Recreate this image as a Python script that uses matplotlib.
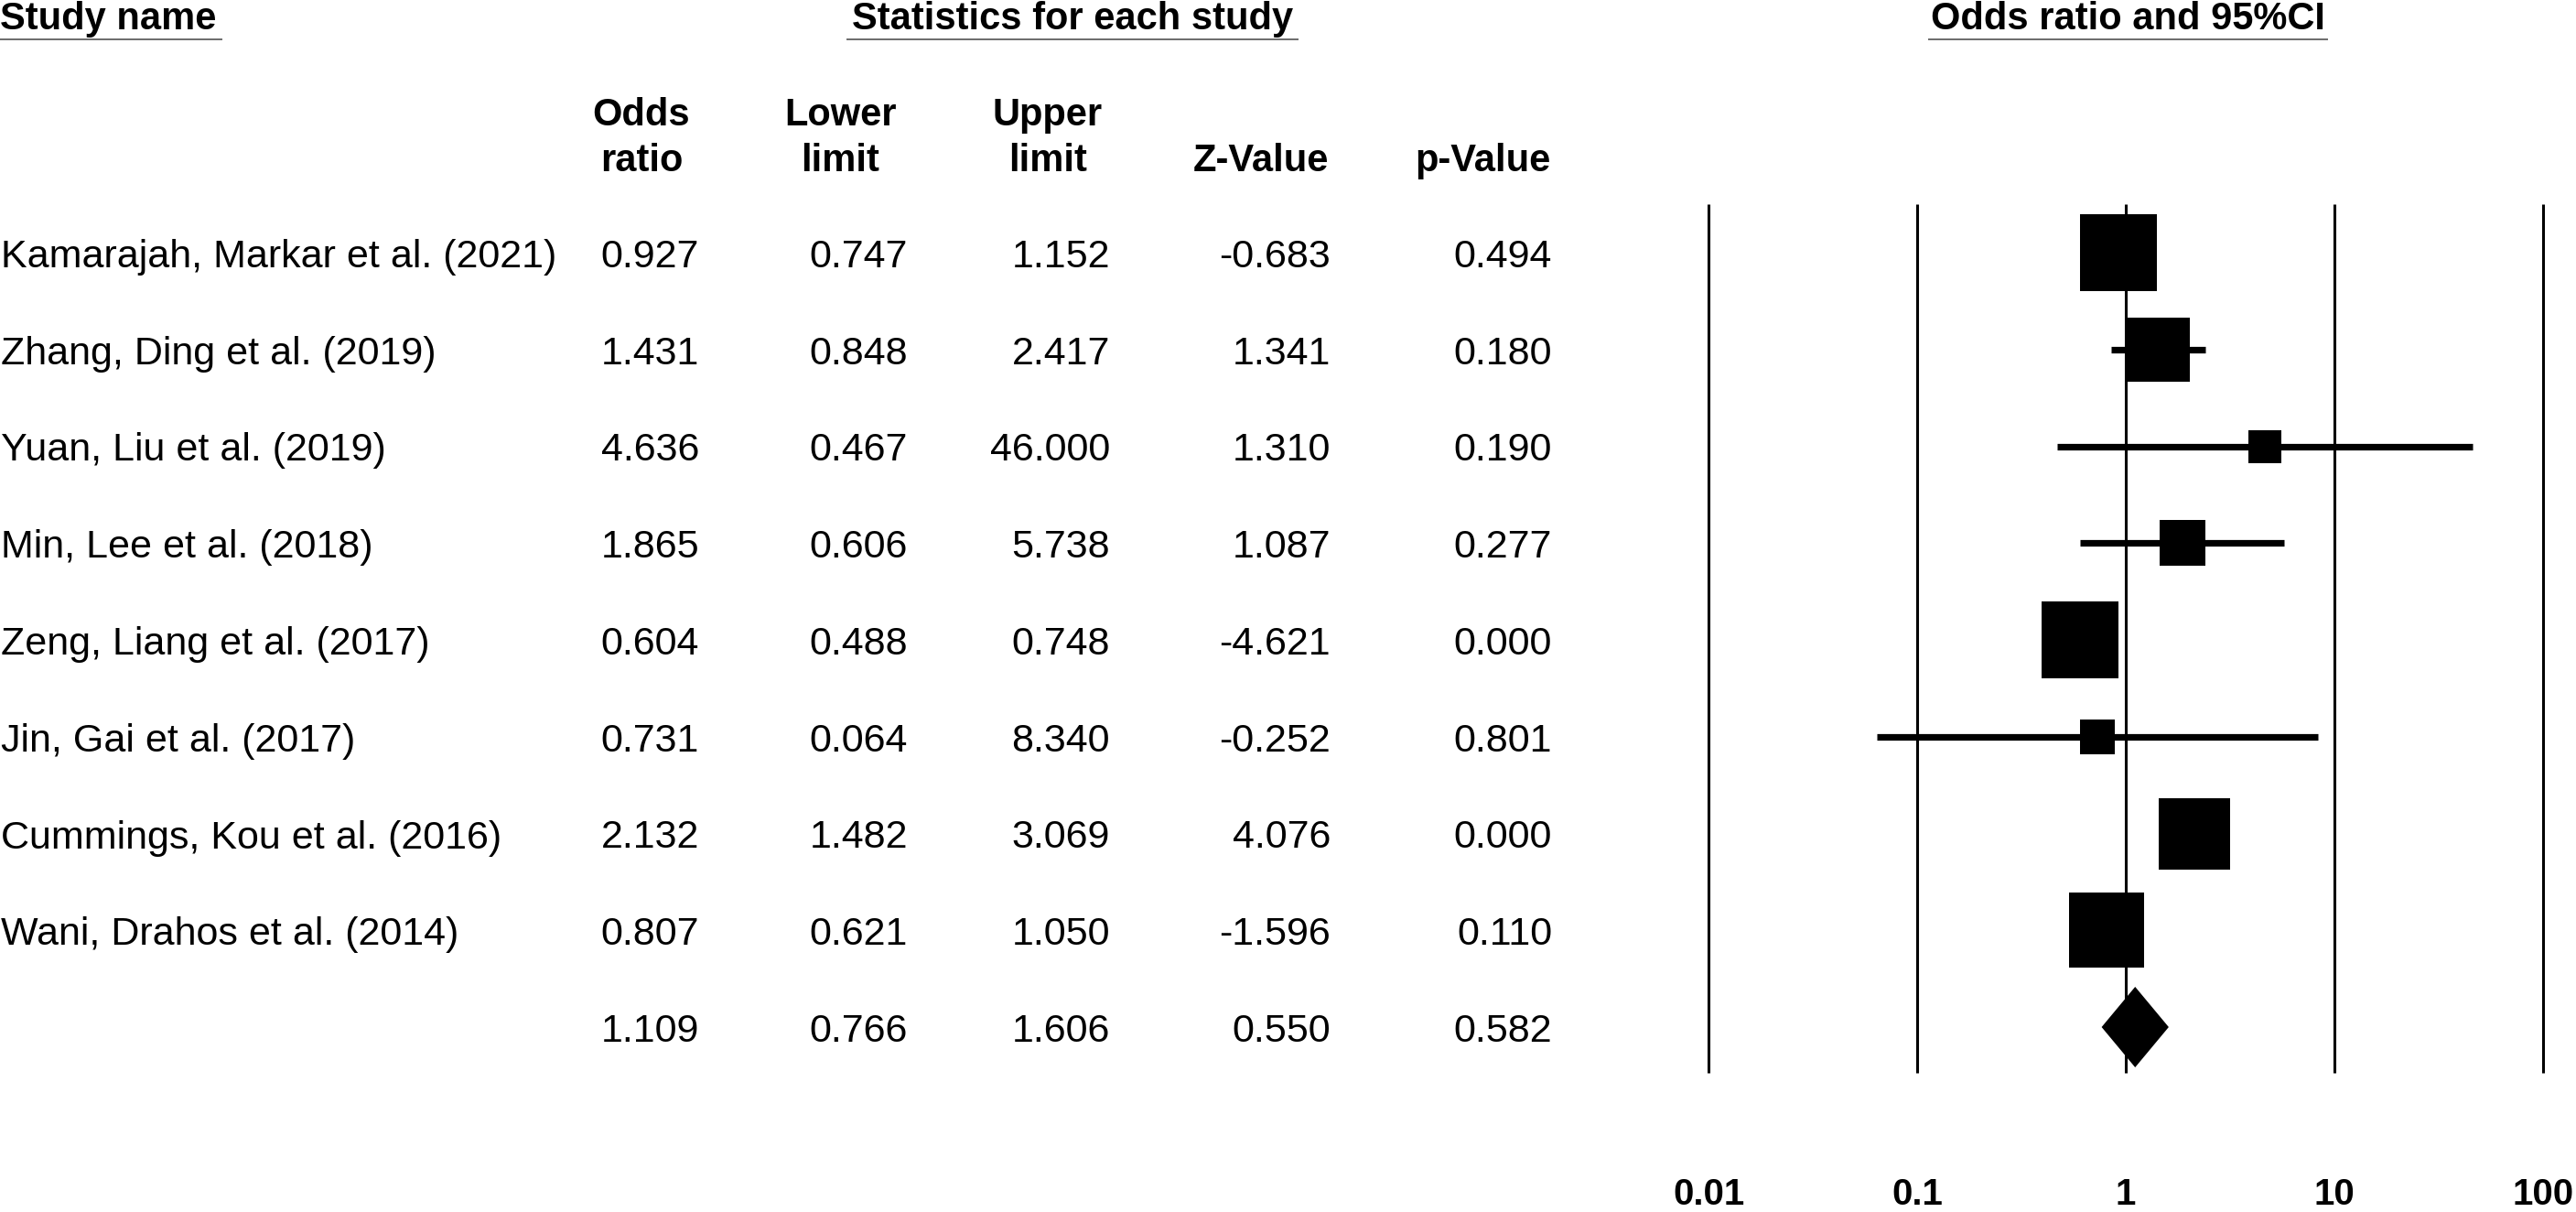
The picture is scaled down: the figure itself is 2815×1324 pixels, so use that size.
import matplotlib
matplotlib.use("Agg")
import matplotlib.pyplot as plt

# ---------------- data ----------------
studies = ["Kamarajah, Markar et al. (2021)", "Zhang, Ding et al. (2019)",
           "Yuan, Liu et al. (2019)", "Min, Lee et al. (2018)",
           "Zeng, Liang et al. (2017)", "Jin, Gai et al. (2017)",
           "Cummings, Kou et al. (2016)", "Wani, Drahos et al. (2014)"]
odds_ratio = [0.927, 1.431, 4.636, 1.865, 0.604, 0.731, 2.132, 0.807]
lower_limit = [0.747, 0.848, 0.467, 0.606, 0.488, 0.064, 1.482, 0.621]
upper_limit = [1.152, 2.417, 46.000, 5.738, 0.748, 8.340, 3.069, 1.050]
z_value = [-0.683, 1.341, 1.310, 1.087, -4.621, -0.252, 4.076, -1.596]
p_value = [0.494, 0.180, 0.190, 0.277, 0.000, 0.801, 0.000, 0.110]
# relative weights (%)
rel_weight = [18.8, 13.4, 3.6, 6.6, 18.8, 3.8, 16.6, 18.3]

summary_or, summary_lo, summary_hi = 1.109, 0.766, 1.606
summary_z, summary_p = 0.550, 0.582

axis_ticks = [0.01, 0.1, 1, 10, 100]
axis_tick_labels = ["0.01", "0.1", "1", "10", "100"]

header_top = ["Study name", "Statistics for each study", "Odds ratio and 95%CI"]
col_head1 = ["Odds", "Lower", "Upper", "", ""]
col_head2 = ["ratio", "limit", "limit", "Z-Value", "p-Value"]

# ---------------- layout (pixels) ----------------
W, H = 2815, 1324
FONT = "Liberation Sans"
plt.rcParams["font.family"] = [FONT, "DejaVu Sans"]

fig = plt.figure(figsize=(W / 100, H / 100), dpi=100)
fig.patch.set_facecolor("white")


def fx(px):
    return px / W


def fy(py):
    return 1 - py / H


row0, row_step = 276, 105.75
row_y = [row0 + i * row_step for i in range(len(studies) + 1)]

body_size = 31
head_size = 30
tick_size = 29
base_off = 16  # baseline offset below row centre

# numeric columns (right edges) and header centres
col_right = [764, 992, 1213, 1454, 1696]
head_centre = [701, 918, 1145, 1378, 1620]

# top headers with underlines
top_specs = [(0, 242, "left"), (926, 1418, "center"), (2108, 2543, "center")]
for txt, (x0, x1, ha) in zip(header_top, top_specs):
    xt = x0 if ha == "left" else (x0 + x1) / 2
    fig.text(fx(xt), fy(32), txt, ha=ha, va="baseline", fontsize=head_size,
             fontweight="bold", color="black")
    fig.add_artist(plt.Line2D([fx(x0), fx(x1)], [fy(43), fy(43)],
                              color="#6b6b6b", lw=1.4))

# column headers
for h1, h2, xc in zip(col_head1, col_head2, head_centre):
    if h1:
        fig.text(fx(xc), fy(137), h1, ha="center", va="baseline",
                 fontsize=head_size, fontweight="bold")
    fig.text(fx(xc), fy(187), h2, ha="center", va="baseline",
             fontsize=head_size, fontweight="bold")

# table rows
for i, name in enumerate(studies):
    y = fy(row_y[i] + base_off)
    fig.text(fx(1), y, name, ha="left", va="baseline", fontsize=body_size)
    vals = [odds_ratio[i], lower_limit[i], upper_limit[i], z_value[i], p_value[i]]
    for v, xr in zip(vals, col_right):
        fig.text(fx(xr), y, f"{v:.3f}", ha="right", va="baseline",
                 fontsize=body_size)

y = fy(row_y[-1] + base_off)
for v, xr in zip([summary_or, summary_lo, summary_hi, summary_z, summary_p],
                 col_right):
    fig.text(fx(xr), y, f"{v:.3f}", ha="right", va="baseline",
             fontsize=body_size)

# ---------------- forest plot ----------------
ax_left, ax_right = 1867, 2779
ax = fig.add_axes([fx(ax_left), 0, fx(ax_right) - fx(ax_left), 1])
ax.set_xscale("log")
ax.set_xlim(axis_ticks[0], axis_ticks[-1])
ax.set_ylim(H, 0)
ax.axis("off")

ax.vlines(axis_ticks, 223, 1172, color="black", lw=2.2, clip_on=False)

max_side_px = 84
for i in range(len(studies)):
    yy = row_y[i]
    ax.plot([lower_limit[i], upper_limit[i]], [yy, yy], color="black",
            lw=5.2, solid_capstyle="butt", clip_on=False)
    side_px = max_side_px * (rel_weight[i] / max(rel_weight)) ** 0.5
    ax.plot([odds_ratio[i]], [yy], marker="s", ms=side_px * 0.72,
            color="black", mew=0, linestyle="none", clip_on=False)

ys = row_y[-1]
half_h = 44
ax.fill([summary_lo, summary_or, summary_hi, summary_or],
        [ys, ys - half_h, ys, ys + half_h], color="black", lw=0)

for v, lbl in zip(axis_ticks, axis_tick_labels):
    ax.text(v, 1316, lbl, ha="center", va="baseline", fontsize=tick_size,
            fontweight="bold", clip_on=False)

fig.savefig("out.png", dpi=100, facecolor="white")
